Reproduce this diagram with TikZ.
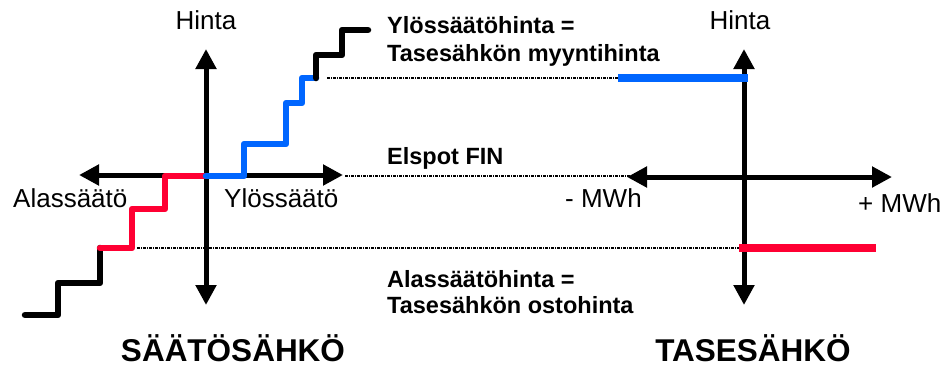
\documentclass[tikz,border=0pt]{standalone}
\usepackage{fontspec}
\setmainfont{Liberation Sans}
\usetikzlibrary{arrows.meta}
\definecolor{sblue}{RGB}{0,102,255}
\definecolor{sred}{RGB}{255,0,51}
\tikzset{
  axis/.style={line width=5pt,{Triangle[length=20pt,width=20pt]}-{Triangle[length=20pt,width=20pt]}},
  stair/.style={line width=6.5pt,line cap=round,line join=round},
  level/.style={line width=7.5pt},
  guide/.style={line width=1.2pt,dash pattern=on 3pt off 1pt on 1pt off 1pt},
  lbl/.style={inner sep=0pt,font=\fontsize{26}{30}\selectfont},
  blbl/.style={inner sep=0pt,anchor=base west,font=\fontsize{23.5}{28}\selectfont\bfseries},
  title/.style={inner sep=0pt,anchor=base,font=\fontsize{31.5}{36}\selectfont\bfseries},
}
\begin{document}
\begin{tikzpicture}[x=1pt,y=-1pt]
\useasboundingbox (0,0) rectangle (945,368);
% coordinates
\coordinate (LT) at (206,49);
\coordinate (LB) at (206,305);
\coordinate (LL) at (79,175);
\coordinate (LR) at (343,175);
\coordinate (RT) at (744,49);
\coordinate (RB) at (744,305);
\coordinate (RL) at (627,177);
\coordinate (RR) at (892,177);
% guide lines
\coordinate (g1a) at (327,78);  \coordinate (g1b) at (618,78);
\coordinate (g2a) at (345,176); \coordinate (g2b) at (630,176);
\coordinate (g3a) at (137,248); \coordinate (g3b) at (740,248);
\draw[guide] (g1a) -- (g1b);
\draw[guide] (g2a) -- (g2b);
\draw[guide] (g3a) -- (g3b);
% axes
\draw[axis] (LB) -- (LT);
\draw[axis] (LL) -- (LR);
\draw[axis] (RB) -- (RT);
\draw[axis] (RL) -- (RR);
% left staircase
\draw[stair,black] (25,315) -- (58,315) -- (58,283) -- (100,283) -- (100,248);
\draw[stair,sred] (100,248) -- (132,248) -- (132,209) -- (165,209) -- (165,176) -- (206,176);
\draw[stair,sblue] (206,176) -- (244,176) -- (244,144) -- (286,144) -- (286,103) -- (302,103) -- (302,78) -- (316,78);
\draw[stair,black] (316,78) -- (316,55) -- (342,55) -- (342,30) -- (368,30);
% right levels
\draw[level,sblue] (618,78) -- (748,78);
\draw[level,sred] (739,248) -- (876,248);
% labels
\node[lbl,anchor=base] (hintaL) at (206,29) {Hinta};
\node[lbl,anchor=base west] (alas) at (13,207) {Alassäätö};
\node[lbl,anchor=base west] (ylos) at (224,207) {Ylössäätö};
\node[lbl,anchor=base] (hintaR) at (740,29) {Hinta};
\node[lbl,anchor=base west] (minus) at (565,207) {- MWh};
\node[lbl,anchor=base west] (plus) at (858,212) {+ MWh};
\node[blbl] (y1) at (387,33) {Ylössäätöhinta =};
\node[blbl] (y2) at (387,61) {Tasesähkön myyntihinta};
\node[blbl] (els) at (387,164) {Elspot FIN};
\node[blbl] (a1) at (387,287) {Alassäätöhinta =};
\node[blbl] (a2) at (387,313) {Tasesähkön ostohinta};
\node[title] (saato) at (233,361) {SÄÄTÖSÄHKÖ};
\node[title] (tase) at (753,361) {TASESÄHKÖ};
\end{tikzpicture}
\end{document}
